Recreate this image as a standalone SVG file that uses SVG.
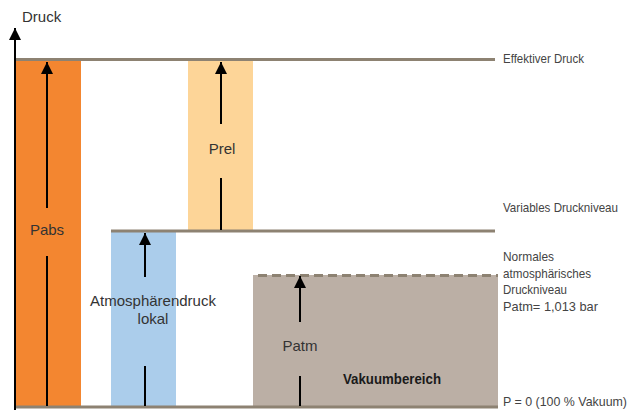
<svg xmlns="http://www.w3.org/2000/svg" width="639" height="410" viewBox="0 0 639 410">
<defs>
<style>
.lvl{stroke:#8d8272;stroke-width:3;fill:none}
.arr{stroke:#000;stroke-width:2;fill:none}
.lbl{font-family:"Liberation Sans",Arial,sans-serif;font-size:15px;fill:#333;text-anchor:middle}
.side{font-family:"Liberation Sans",Arial,sans-serif;font-size:13.5px;fill:#444}
.bold{font-family:"Liberation Sans",Arial,sans-serif;font-size:15px;font-weight:bold;fill:#1a1a1a;text-anchor:middle}
</style>
<marker id="ah" markerUnits="userSpaceOnUse" markerWidth="12" markerHeight="12" viewBox="0 0 10 10" refX="10" refY="5" orient="auto">
<path d="M0,0 L10,5 L0,10 Z" fill="#000"/>
</marker>
</defs>
<rect width="639" height="410" fill="#fff"/>
<g id="pabs">
<rect x="16" y="59" width="65" height="348" fill="#f38630"/>
<text class="lbl" x="47" y="235">Pabs</text>
</g>
<g id="prel">
<rect x="188" y="59" width="65" height="172" fill="#fdd598"/>
<text class="lbl" x="222" y="154">Prel</text>
</g>
<g id="atmlokal">
<rect x="111" y="231" width="65" height="176" fill="#abcdeb"/>
<text class="lbl" x="153" y="306">Atmosphärendruck</text>
<text class="lbl" x="153" y="324">lokal</text>
</g>
<g id="vakuum">
<rect x="253" y="275" width="245" height="132" fill="#bbafa5"/>
<line class="lvl" x1="258" y1="275.5" x2="498" y2="275.5" stroke-dasharray="9 5"/>
<text class="lbl" x="300" y="351">Patm</text>
<text class="bold" x="392" y="384" textLength="98" lengthAdjust="spacingAndGlyphs">Vakuumbereich</text>
</g>
<g id="levels">
<line class="lvl" x1="15" y1="59.5" x2="495" y2="59.5"/>
<line class="lvl" x1="111" y1="231" x2="495" y2="231"/>
<line class="lvl" x1="15" y1="407" x2="498" y2="407"/>
</g>
<g id="labels">
<text x="22" y="22" font-family="Liberation Sans,Arial,sans-serif" font-size="15" fill="#333">Druck</text>
<text class="side" x="503" y="63" textLength="81" lengthAdjust="spacingAndGlyphs">Effektiver Druck</text>
<text class="side" x="503" y="212" textLength="115" lengthAdjust="spacingAndGlyphs">Variables Druckniveau</text>
<text class="side" x="503" y="261" textLength="51" lengthAdjust="spacingAndGlyphs">Normales</text>
<text class="side" x="503" y="278" textLength="88" lengthAdjust="spacingAndGlyphs">atmosphärisches</text>
<text class="side" x="503" y="294" textLength="64" lengthAdjust="spacingAndGlyphs">Druckniveau</text>
<text class="side" x="503" y="311" textLength="95" lengthAdjust="spacingAndGlyphs">Patm= 1,013 bar</text>
<text class="side" x="503" y="406" textLength="124" lengthAdjust="spacingAndGlyphs">P = 0 (100 % Vakuum)</text>
</g>
<g id="connectors">
<line class="arr" x1="15" y1="410" x2="15" y2="28" marker-end="url(#ah)"/>
<line class="arr" x1="47" y1="208" x2="47" y2="62" marker-end="url(#ah)"/>
<line class="arr" x1="47" y1="256" x2="47" y2="406"/>
<line class="arr" x1="221" y1="124" x2="221" y2="62" marker-end="url(#ah)"/>
<line class="arr" x1="221" y1="178" x2="221" y2="230"/>
<line class="arr" x1="145" y1="277" x2="145" y2="233" marker-end="url(#ah)"/>
<line class="arr" x1="145" y1="366" x2="145" y2="406"/>
<line class="arr" x1="300" y1="322" x2="300" y2="276" marker-end="url(#ah)"/>
<line class="arr" x1="300" y1="376" x2="300" y2="406"/>
</g>
</svg>
